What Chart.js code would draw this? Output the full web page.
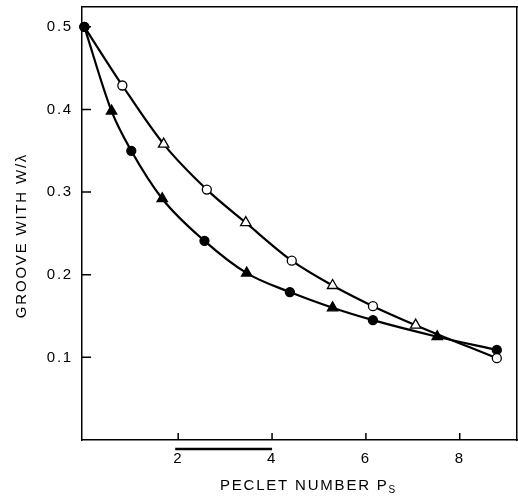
<!DOCTYPE html>
<html>
<head>
<meta charset="utf-8">
<script src="https://cdn.jsdelivr.net/npm/chart.js@4/dist/chart.umd.min.js"></script>
<style>
  html, body { margin: 0; padding: 0; background: #fff; }
  canvas { display: block; }
</style>
</head>
<body>
<canvas id="chart" width="518" height="504"></canvas>
<script>
// Upper curve: open circles / open triangles
const upperPeclet = [0, 0.81, 1.69, 2.61, 3.44, 4.42, 5.29, 6.15, 7.06, 8.79];
const upperWidth  = [0.5, 0.429, 0.358, 0.303, 0.263, 0.217, 0.187, 0.162, 0.139, 0.099];
const upperMarks  = ['circle', 'circle', 'triangle', 'circle', 'triangle', 'circle', 'triangle', 'circle', 'triangle', 'circle'];

// Lower curve: filled circles / filled triangles
const lowerPeclet = [0, 0.58, 1.0, 1.66, 2.56, 3.46, 4.38, 5.29, 6.15, 7.52, 8.79];
const lowerWidth  = [0.5, 0.398, 0.350, 0.292, 0.241, 0.202, 0.179, 0.160, 0.145, 0.125, 0.109];
const lowerMarks  = ['circle', 'triangle', 'circle', 'triangle', 'circle', 'triangle', 'circle', 'triangle', 'circle', 'triangle', 'circle'];

// Axis ticks
const xTicks = [2, 4, 6, 8];
const yTicks = [0.1, 0.2, 0.3, 0.4, 0.5];
const xTickLabels = ['2', '4', '6', '8'];
const yTickLabels = ['0.1', '0.2', '0.3', '0.4', '0.5'];

// Axis titles (x title carries a subscript)
const xTitleMain = 'PECLET NUMBER P';
const xTitleSub = 'S';
const yTitle = 'GROOVE WITH W/λ';

// Length bar under the abscissa
const scaleBar = [2, 4];

const FAMILY = "'Liberation Sans', Arial, Helvetica, sans-serif";
const FONT = { family: FAMILY, size: 15 };
const SPACING = '1.8px';
const AXIS_BORDER = { display: true, color: '#000', width: 1.5 };

const toPoints = (xs, ys) => xs.map((v, i) => ({ x: v, y: ys[i] }));
const radiusFor = marks => marks.map(m => (m === 'triangle' ? 6 : 4.5));
const noPadding = s => { s.paddingTop = 0; s.paddingBottom = 0; s.paddingLeft = 0; s.paddingRight = 0; };

function drawFrame(chart) {
  const { ctx, chartArea: a, scales: { x, y } } = chart;
  ctx.save();
  ctx.strokeStyle = '#000';
  ctx.lineWidth = 1.5;
  ctx.beginPath();
  // inward tick marks
  xTicks.forEach(v => {
    const px = x.getPixelForValue(v);
    ctx.moveTo(px, a.bottom);
    ctx.lineTo(px, a.bottom - 7);
  });
  yTicks.forEach(v => {
    const py = y.getPixelForValue(v);
    ctx.moveTo(a.left, py);
    ctx.lineTo(a.left + 9, py);
  });
  ctx.stroke();
  // length bar
  ctx.lineWidth = 2.5;
  ctx.beginPath();
  ctx.moveTo(x.getPixelForValue(scaleBar[0]) - 3, a.bottom + 9);
  ctx.lineTo(x.getPixelForValue(scaleBar[1]), a.bottom + 9);
  ctx.stroke();
  ctx.restore();
}

function drawTitles(chart) {
  const { ctx, chartArea: a } = chart;
  ctx.save();
  ctx.fillStyle = '#000';
  ctx.letterSpacing = SPACING;
  ctx.textBaseline = 'middle';
  ctx.textAlign = 'left';
  // x title with subscript
  ctx.font = `15px ${FAMILY}`;
  const wMain = ctx.measureText(xTitleMain).width;
  ctx.font = `10px ${FAMILY}`;
  const wSub = ctx.measureText(xTitleSub).width;
  const sx = (a.left + a.right) / 2 + 9 - (wMain + wSub) / 2;
  ctx.font = `15px ${FAMILY}`;
  ctx.fillText(xTitleMain, sx, 486);
  ctx.font = `10px ${FAMILY}`;
  ctx.fillText(xTitleSub, sx + wMain, 490);
  ctx.restore();

  // y title, rotated
  ctx.save();
  ctx.fillStyle = '#000';
  ctx.letterSpacing = SPACING;
  ctx.textBaseline = 'middle';
  ctx.textAlign = 'center';
  ctx.font = `15px ${FAMILY}`;
  ctx.translate(22, (a.top + a.bottom) / 2 + 12);
  ctx.rotate(-Math.PI / 2);
  ctx.fillText(yTitle, 0, 0);
  ctx.restore();
}

const framePlugin = {
  id: 'frame',
  beforeLayout(chart) { chart.ctx.letterSpacing = SPACING; },
  beforeDraw(chart) { chart.ctx.letterSpacing = SPACING; },
  afterDraw(chart) {
    drawFrame(chart);
    drawTitles(chart);
  }
};

// Plain edge axes that only close the frame on the top and right
const edgeAxis = (position, axis) => ({
  type: 'linear',
  position,
  axis,
  grid: { display: false, drawTicks: false },
  border: AXIS_BORDER,
  ticks: { display: false },
  afterFit: s => {
    if (axis === 'x') s.height = 0; else s.width = 0;
    noPadding(s);
  }
});

new Chart(document.getElementById('chart'), {
  type: 'line',
  data: {
    datasets: [
      {
        label: 'open',
        data: toPoints(upperPeclet, upperWidth),
        xAxisID: 'x',
        yAxisID: 'y',
        borderColor: '#000',
        borderWidth: 2.2,
        cubicInterpolationMode: 'monotone',
        pointStyle: upperMarks,
        pointRadius: radiusFor(upperMarks),
        pointBorderWidth: 1.3,
        pointBorderColor: '#000',
        pointBackgroundColor: upperMarks.map((m, i) => (i === 0 ? '#000' : '#fff')),
        clip: false
      },
      {
        label: 'filled',
        data: toPoints(lowerPeclet, lowerWidth),
        xAxisID: 'x',
        yAxisID: 'y',
        borderColor: '#000',
        borderWidth: 2.2,
        cubicInterpolationMode: 'monotone',
        pointStyle: lowerMarks,
        pointRadius: radiusFor(lowerMarks),
        pointBorderWidth: 1.3,
        pointBorderColor: '#000',
        pointBackgroundColor: '#000',
        clip: false
      }
    ]
  },
  options: {
    responsive: false,
    devicePixelRatio: 1,
    animation: false,
    layout: { autoPadding: false, padding: { left: 0, right: 1, top: 7, bottom: 0 } },
    plugins: { legend: { display: false }, tooltip: { enabled: false } },
    scales: {
      x: {
        type: 'linear',
        position: 'bottom',
        min: -0.05,
        max: 9.22,
        grid: { display: false, drawTicks: false },
        border: AXIS_BORDER,
        afterBuildTicks: s => { s.ticks = xTicks.map(v => ({ value: v })); },
        afterFit: s => { s.height = 64; noPadding(s); },
        ticks: {
          color: '#000',
          font: FONT,
          padding: 10,
          maxRotation: 0,
          callback: (v) => xTickLabels[xTicks.indexOf(v)]
        },
        title: { display: false }
      },
      y: {
        type: 'linear',
        position: 'left',
        min: 0,
        max: 0.524,
        grid: { display: false, drawTicks: false },
        border: AXIS_BORDER,
        afterBuildTicks: s => { s.ticks = yTicks.map(v => ({ value: v })); },
        afterFit: s => { s.width = 82; noPadding(s); },
        ticks: {
          color: '#000',
          font: FONT,
          padding: 9,
          callback: (v) => yTickLabels[yTicks.indexOf(v)]
        },
        title: { display: false }
      },
      xTop: edgeAxis('top', 'x'),
      yRight: edgeAxis('right', 'y')
    }
  },
  plugins: [framePlugin]
});
</script>
</body>
</html>
